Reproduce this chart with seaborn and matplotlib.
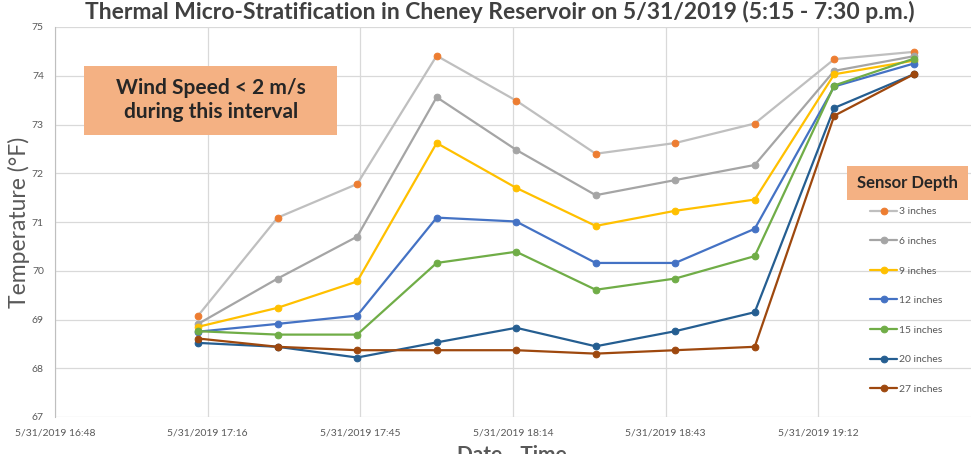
import numpy as np
import pandas as pd
import matplotlib
matplotlib.use("Agg")
import matplotlib.pyplot as plt
from matplotlib.patches import Rectangle
import seaborn as sns

# readings every 15 min, 5:15 - 7:30 pm
times = ["17:15", "17:30", "17:45", "18:00", "18:15", "18:30", "18:45", "19:00", "19:15", "19:30"]
depths = ["3 inches", "6 inches", "9 inches", "12 inches", "15 inches", "20 inches", "27 inches"]
t_3in = [69.08, 71.09, 71.78, 74.41, 73.49, 72.40, 72.62, 73.02, 74.34, 74.49]
t_6in = [68.91, 69.84, 70.70, 73.56, 72.48, 71.55, 71.86, 72.17, 74.10, 74.40]
t_9in = [68.85, 69.24, 69.78, 72.62, 71.70, 70.92, 71.23, 71.46, 74.03, 74.31]
t_12in = [68.75, 68.91, 69.08, 71.09, 71.01, 70.16, 70.16, 70.86, 73.78, 74.25]
t_15in = [68.76, 68.69, 68.69, 70.16, 70.39, 69.61, 69.84, 70.30, 73.80, 74.35]
t_20in = [68.52, 68.44, 68.22, 68.53, 68.83, 68.45, 68.76, 69.15, 73.34, 74.03]
t_27in = [68.61, 68.44, 68.37, 68.37, 68.37, 68.30, 68.37, 68.44, 73.18, 74.03]
tick_times = ["16:48:00", "17:16:48", "17:45:36", "18:14:24", "18:43:12", "19:12:00"]
tick_labels = ["5/31/2019 16:48", "5/31/2019 17:16", "5/31/2019 17:45",
               "5/31/2019 18:14", "5/31/2019 18:43", "5/31/2019 19:12"]

line_colors = ["#BFBFBF", "#A5A5A5", "#FFC000", "#4472C4", "#70AD47", "#255E91", "#9E480E"]
marker_colors = ["#ED7D31", "#A5A5A5", "#FFC000", "#4472C4", "#70AD47", "#255E91", "#9E480E"]

series = [t_3in, t_6in, t_9in, t_12in, t_15in, t_20in, t_27in]
rows = []
for d, vals in zip(depths, series):
    for t, v in zip(times, vals):
        rows.append({"time": pd.Timestamp("2019-05-31 " + t), "depth": d, "temp": v})
df = pd.DataFrame(rows)

sns.set_style("white")
plt.rcParams["font.family"] = ["Lato", "DejaVu Sans"]

W, H = 973, 454
fig = plt.figure(figsize=(W / 100, H / 100), dpi=100)
ax = fig.add_axes([55 / W, 37 / H, 916 / W, 390 / H])

for d, lc, mc in zip(depths, line_colors, marker_colors):
    sub = df[df["depth"] == d]
    sns.lineplot(data=sub, x="time", y="temp", color=lc, lw=1.6, marker="o",
                 markersize=4.8, markerfacecolor=mc, markeredgecolor=mc,
                 label=d, ax=ax, zorder=3)

ax.set_ylim(67, 75)
ax.set_xlim(pd.Timestamp("2019-05-31 16:48:00"), pd.Timestamp("2019-05-31 19:40:48"))
ax.set_yticks(range(67, 76))
ax.set_xticks([pd.Timestamp("2019-05-31 " + t) for t in tick_times])
ax.set_xticklabels(tick_labels)
ax.tick_params(axis="both", length=0, labelsize=7.5, labelcolor="#595959", pad=8)
ax.tick_params(axis="x", pad=8)
ax.grid(True, color="#D9D9D9", lw=0.9)
ax.set_axisbelow(True)
for s in ["top", "right", "bottom"]:
    ax.spines[s].set_visible(False)
ax.spines["left"].set_color("#BFBFBF")
ax.set_xlabel("")
ax.set_ylabel("")

fig.text(500 / W, 1 - 12 / H, "Thermal Micro-Stratification in Cheney Reservoir on 5/31/2019 (5:15 - 7:30 p.m.)",
         ha="center", va="center", fontsize=16.5, fontweight="bold", color="#404040")
fig.text(19 / W, 1 - 222 / H, "Temperature (°F)", rotation=90, ha="center", va="center",
         fontsize=16.5, color="#595959")
fig.text(512 / W, 1 - 445 / H, "Date - Time", ha="center", va="top",
         fontsize=15, fontweight="bold", color="#595959")

# annotation box
fig.add_artist(Rectangle((84 / W, 1 - 135 / H), 253 / W, 69 / H, transform=fig.transFigure,
                         fc="#F4B183", ec="none", zorder=4))
fig.text(211 / W, 1 - 100 / H, "Wind Speed < 2 m/s\nduring this interval", ha="center", va="center",
         fontsize=15, fontweight="bold", color="#262626", linespacing=1.3, zorder=5)

# legend title box
fig.add_artist(Rectangle((847 / W, 1 - 200 / H), 121 / W, 34 / H, transform=fig.transFigure,
                         fc="#F4B183", ec="none", zorder=4))
fig.text(907 / W, 1 - 183 / H, "Sensor Depth", ha="center", va="center",
         fontsize=12, fontweight="bold", color="#262626", zorder=5)

leg = ax.legend(loc="upper left", bbox_to_anchor=(870 / W, 1 - 207 / H), bbox_transform=fig.transFigure,
                frameon=False, fontsize=7.5, labelspacing=1.95, handlelength=2.6, handletextpad=0.2,
                borderaxespad=0, borderpad=0)
for txt in leg.get_texts():
    txt.set_color("#595959")

fig.savefig("out.png", dpi=100)
